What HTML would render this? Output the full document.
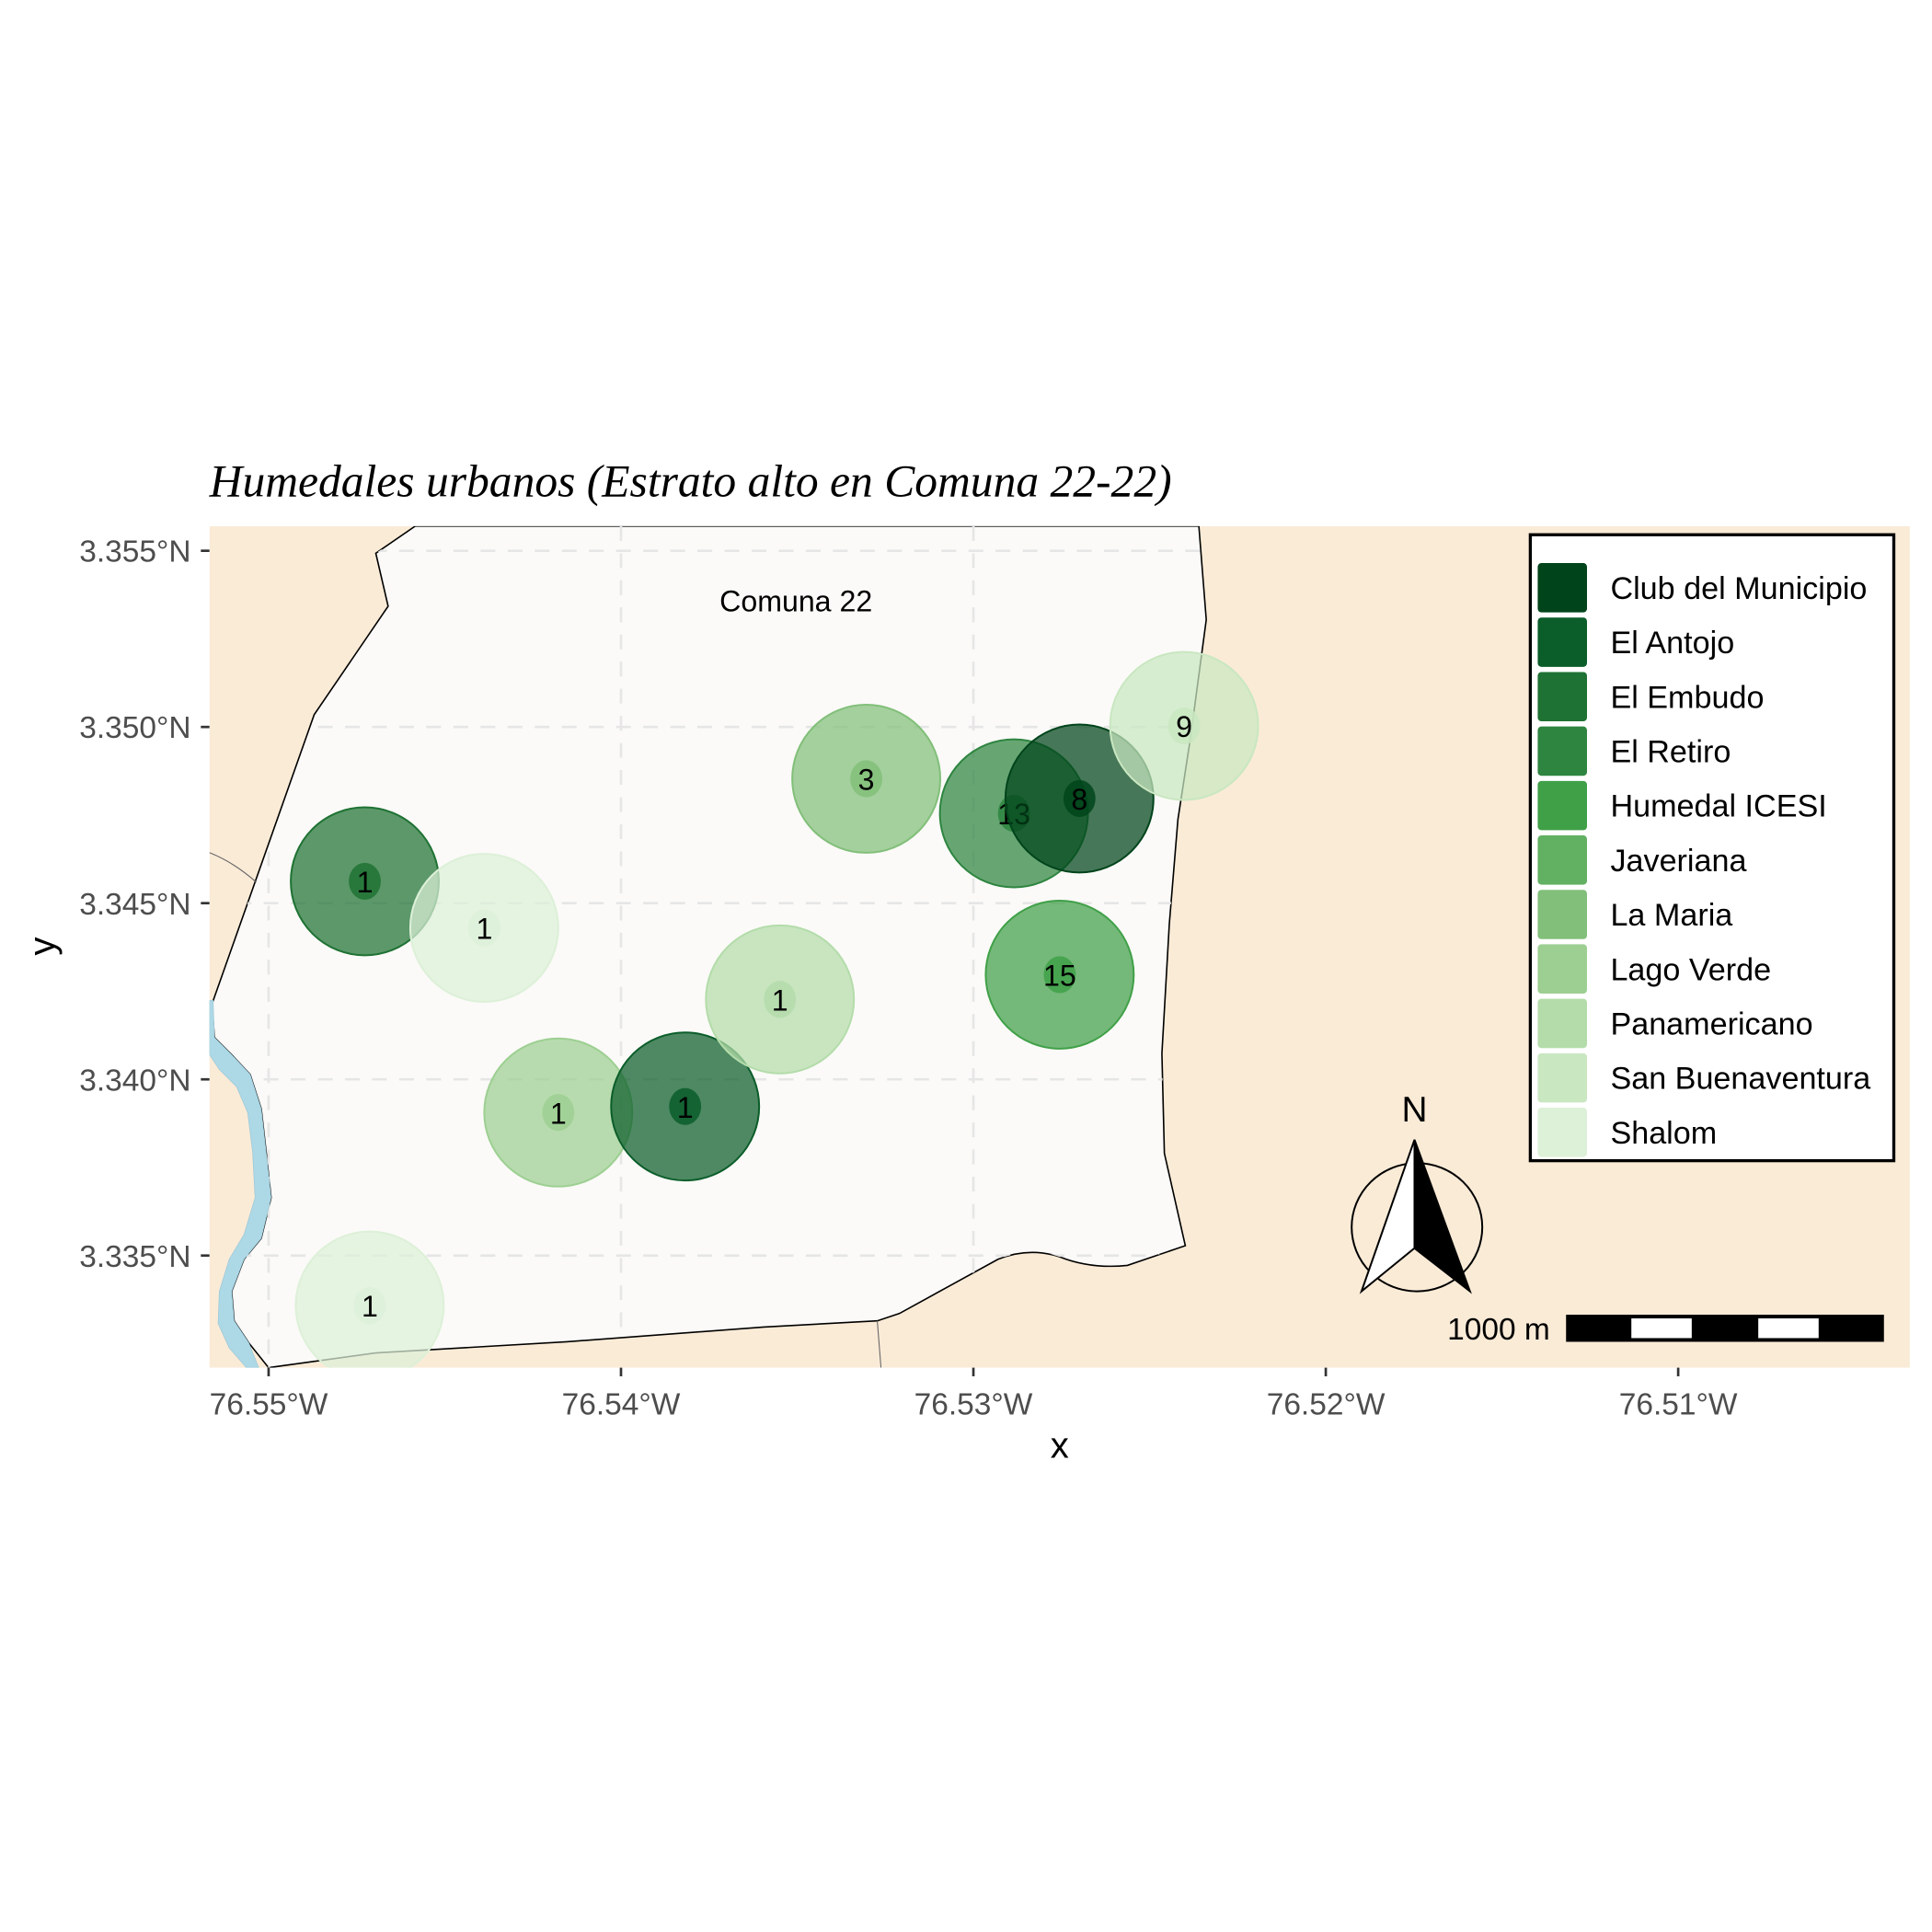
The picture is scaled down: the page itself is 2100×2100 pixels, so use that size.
<!DOCTYPE html>
<html><head><meta charset="utf-8"><style>
html,body{margin:0;padding:0;background:#fff;}
svg{display:block;}
text{font-family:"Liberation Sans",sans-serif;}
</style></head><body>
<svg id="chart" width="2100" height="2100" viewBox="0 0 1568 1568" xmlns="http://www.w3.org/2000/svg">
<defs>
<clipPath id="panelClip"><rect x="170" y="427" width="1380" height="683"/></clipPath>
<clipPath id="polyClip"><path id="polyClipPath" d=""/></clipPath>
</defs>
<text x="170" y="403" font-style="italic" font-size="37" fill="#000" style="font-family:'Liberation Serif',serif">Humedales urbanos (Estrato alto en Comuna 22-22)</text>
<g clip-path="url(#panelClip)">
<rect x="170" y="427" width="1380" height="683" fill="#FAEBD7"/>
<path id="comuna" fill="#FBFAF8" stroke="#000" stroke-width="1.2" d=""/>
<g id="grid" clip-path="url(#polyClip)"></g>
<path fill="#ADD8E6" stroke="#9cc7d6" stroke-width="0.5" d="M170,812 L173,812 L174,842 L188,856 L203,872 L212,900 L216,935 L220,972 L212,1005 L198,1022 L188,1048 L190,1072 L202,1090 L210,1110 L200,1110 L186,1094 L177,1074 L178,1048 L186,1022 L198,1002 L207,972 L205,935 L201,903 L192,882 L178,868 L170,856 Z"/>
<path d="M170,692 Q190,700 208,716" fill="none" stroke="#666" stroke-width="0.8"/>
<path d="M712,1072 L715,1110" fill="none" stroke="#666" stroke-width="0.8"/>
<g id="circles"></g>
<text x="646" y="496" font-size="24" text-anchor="middle" fill="#000">Comuna 22</text>
</g>
<g id="axes"></g>
<text x="860" y="1183" font-size="30" text-anchor="middle">x</text>
<text x="44" y="768" font-size="30" text-anchor="middle" transform="rotate(-90 44 768)">y</text>
<g>
<rect x="1242" y="434" width="295" height="508" fill="#fff" stroke="#000" stroke-width="2.5"/>
<g id="legendItems"></g>
</g>
<g>
<text x="1148" y="910" font-size="29" text-anchor="middle">N</text>
<ellipse cx="1150" cy="996" rx="53" ry="52" fill="none" stroke="#000" stroke-width="1.5"/>
<polygon points="1148,925 1105,1048 1148,1013" fill="#fff" stroke="#000" stroke-width="1.5"/>
<polygon points="1148,925 1193,1048 1148,1013" fill="#000" stroke="#000" stroke-width="1.5"/>
</g>
<g>
<text x="1258" y="1087" font-size="25" text-anchor="end">1000 m</text>
<rect x="1271" y="1067" width="258" height="22" fill="#000"/>
<rect x="1324" y="1070" width="49" height="16" fill="#fff"/>
<rect x="1427" y="1070" width="49" height="16" fill="#fff"/>
</g>
</svg>
<script>
const names = ["Club del Municipio","El Antojo","El Embudo","El Retiro","Humedal ICESI","Javeriana","La Maria","Lago Verde","Panamericano","San Buenaventura","Shalom"];
const palette = ["#00441B","#0B5D2A","#1E7233","#2E8540","#40A048","#62B062","#82BF7A","#9DCF92","#B4DCAA","#C9E7C1","#DDF0D8"];
const siteCat = [2,10,7,1,8,6,3,0,9,4,10];
const siteLon = [-76.54727,-76.54388,-76.54178,-76.53818,-76.53549,-76.53304,-76.52885,-76.52699,-76.52402,-76.52755,-76.54713];
const siteLat = [3.34562,3.34430,3.33906,3.33923,3.34227,3.34853,3.34755,3.34797,3.35003,3.34297,3.33358];
const siteCount = ["1","1","1","1","1","3","13","8","9","15","1"];
const xTicks = [-76.55,-76.54,-76.53,-76.52,-76.51];
const xTickLabels = ["76.55°W","76.54°W","76.53°W","76.52°W","76.51°W"];
const yTicks = [3.355,3.350,3.345,3.340,3.335];
const yTickLabels = ["3.355°N","3.350°N","3.345°N","3.340°N","3.335°N"];
const bufferKm = 0.0021;

const NS="http://www.w3.org/2000/svg";
function xs(lon){return 218+(lon+76.55)*28600;}
function ys(lat){return 447-(lat-3.355)*28600;}
function mk(tag,attrs,parent){const e=document.createElementNS(NS,tag);for(const k in attrs)e.setAttribute(k,attrs[k]);parent.appendChild(e);return e;}

const polyD="M337,427 L305,449 L315,492 L255,580 L172,815 L174,842 L188,856 L203,872 L212,900 L216,935 L220,972 L212,1005 L198,1022 L188,1048 L190,1072 L202,1090 L218,1110 L305,1098 L460,1089 L620,1077 L712,1072 L730,1066 L810,1022 Q835,1012 860,1020 Q885,1030 915,1027 L962,1011 L945,936 L943,855 L949,750 L956,665 L966,600 L979,503 L973,427 Z";
document.getElementById('comuna').setAttribute('d',polyD);
document.getElementById('polyClipPath').setAttribute('d',polyD);

const grid=document.getElementById('grid');
xTicks.forEach(t=>{const l=mk('line',{x1:xs(t),x2:xs(t),y1:427,y2:1110,stroke:'#e6e6e6','stroke-width':2,'stroke-dasharray':'12,10'},grid);

});
yTicks.forEach(t=>{const l=mk('line',{x1:170,x2:1550,y1:ys(t),y2:ys(t),stroke:'#e6e6e6','stroke-width':2,'stroke-dasharray':'12,10'},grid);

});

const cg=document.getElementById('circles');
const r=bufferKm*28600;
siteLon.forEach((lon,i)=>{
  const c=palette[siteCat[i]];
  const cx=xs(lon), cy=ys(siteLat[i]);
  const g=mk('g',{},cg);
  
  
  const circ=mk('circle',{cx:cx,cy:cy,r:r,fill:c,'fill-opacity':0.72,stroke:c,'stroke-width':1.5},g);
  
  
  const blob=mk('ellipse',{cx:cx,cy:cy,rx:13,ry:15,fill:c,'fill-opacity':0.85},g);
  
  
  const t=mk('text',{x:cx,y:cy+9,'font-size':24,'text-anchor':'middle',fill:'#000'},g);
  t.textContent=siteCount[i];
  
  
});

const ax=document.getElementById('axes');
xTicks.forEach((t,i)=>{
  mk('line',{x1:xs(t),x2:xs(t),y1:1110,y2:1117,stroke:'#333','stroke-width':2},ax);
  const tx=mk('text',{x:xs(t),y:1148,'font-size':25,'text-anchor':'middle',fill:'#4d4d4d'},ax);
  tx.textContent=xTickLabels[i];
  
  
});
yTicks.forEach((t,i)=>{
  mk('line',{x1:163,x2:170,y1:ys(t),y2:ys(t),stroke:'#333','stroke-width':2},ax);
  const tx=mk('text',{x:155,y:ys(t)+9,'font-size':25,'text-anchor':'end',fill:'#4d4d4d'},ax);
  tx.textContent=yTickLabels[i];
  
  
});

const lg=document.getElementById('legendItems');
names.forEach((n,i)=>{
  const y=456+i*44.2;
  const g=mk('g',{},lg);
  
  
  mk('rect',{x:1248,y:y+1,width:40,height:40,rx:3,fill:palette[i]},g);
  const t=mk('text',{x:1307,y:y+30,'font-size':25.5,fill:'#000'},g);
  t.textContent=n;
});
</script>
</body></html>
